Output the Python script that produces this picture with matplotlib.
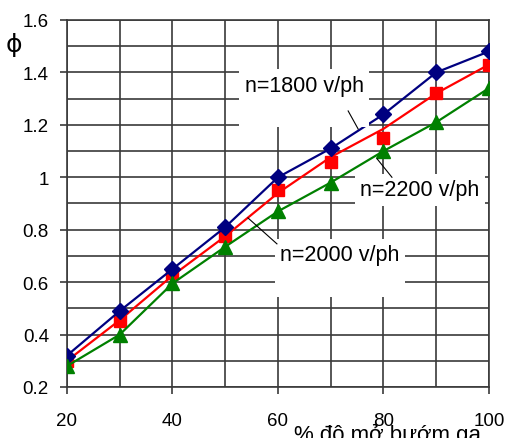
import matplotlib.pyplot as plt
from matplotlib.ticker import MultipleLocator, FuncFormatter

plt.rcParams['font.family'] = ['Liberation Sans', 'DejaVu Sans']

# % throttle opening
opening = [20, 30, 40, 50, 60, 70, 80, 90, 100]
phi_1800 = [0.32, 0.49, 0.65, 0.81, 1.00, 1.11, 1.24, 1.40, 1.48]
phi_2200 = [0.30, 0.45, 0.635, 0.775, 0.95, 1.06, 1.15, 1.32, 1.43]
phi_2200_line = [0.30, 0.455, 0.625, 0.775, 0.94, 1.077, 1.185, 1.32, 1.43]
phi_2000 = [0.28, 0.40, 0.595, 0.735, 0.87, 0.98, 1.10, 1.21, 1.34]

fig = plt.figure(figsize=(5.06, 4.39), dpi=100)
ax = fig.add_axes([0.1324, 0.1162, 0.834, 0.8360])

ax.plot(opening, phi_2200_line, color='#ff0000', lw=1.6, zorder=3)
ax.plot(opening, phi_2200, 's', color='#ff0000', ms=9, mec='#ff0000', zorder=3)
ax.plot(opening, phi_1800, color='#000080', lw=1.6, marker='D', ms=8.5, zorder=4)
ax.plot(opening, phi_2000, color='#008000', lw=1.6, marker='^', ms=10, zorder=4)

ax.set_xlim(20, 100)
ax.set_ylim(0.2, 1.6)
ax.xaxis.set_major_locator(MultipleLocator(20))
ax.xaxis.set_minor_locator(MultipleLocator(10))
ax.yaxis.set_major_locator(MultipleLocator(0.2))
ax.yaxis.set_minor_locator(MultipleLocator(0.1))
ax.yaxis.set_major_formatter(FuncFormatter(lambda v, p: f'{v:g}'))
ax.grid(which='both', color='#3a3a3a', lw=1.2, zorder=1)
for s in ax.spines.values():
    s.set_color('#3a3a3a')
    s.set_linewidth(1.2)
ax.tick_params(which='major', length=5, width=1.2, color='#3a3a3a', labelsize=13.5)
ax.tick_params(axis='x', which='major', pad=13)
ax.tick_params(axis='y', which='major', pad=8)
ax.tick_params(which='minor', length=0)

# labels with leader lines (boxes of the first and last label run deeper below the text)
box = dict(facecolor='white', edgecolor='none', pad=4)
ax.text(65.0, 1.39, 'n=1800 v/ph\n', fontsize=15.5, ha='center', va='top',
        linespacing=1.3, bbox=box, zorder=5)
ax.plot([73.3, 75.2], [1.253, 1.184], color='black', lw=0.8, zorder=5)
ax.text(86.9, 0.952, 'n=2200 v/ph', fontsize=15.5, ha='center', va='center', bbox=box, zorder=5)
ax.plot([78.8, 81.6], [1.07, 1.00], color='black', lw=0.8, zorder=5)
ax.text(71.75, 0.745, 'n=2000 v/ph\n', fontsize=15.5, ha='center', va='top',
        linespacing=1.3, bbox=box, zorder=5)
ax.plot([54.3, 59.8], [0.845, 0.746], color='black', lw=0.8, zorder=5)

fig.text(14 / 506, 1 - 45 / 439, 'ϕ', fontsize=18, ha='center', va='center',
         family=['DejaVu Sans'])
fig.text(388 / 506, -0.004, '% độ mở bướm ga', fontsize=16, ha='center', va='baseline')

fig.savefig('out.png', dpi=100)
